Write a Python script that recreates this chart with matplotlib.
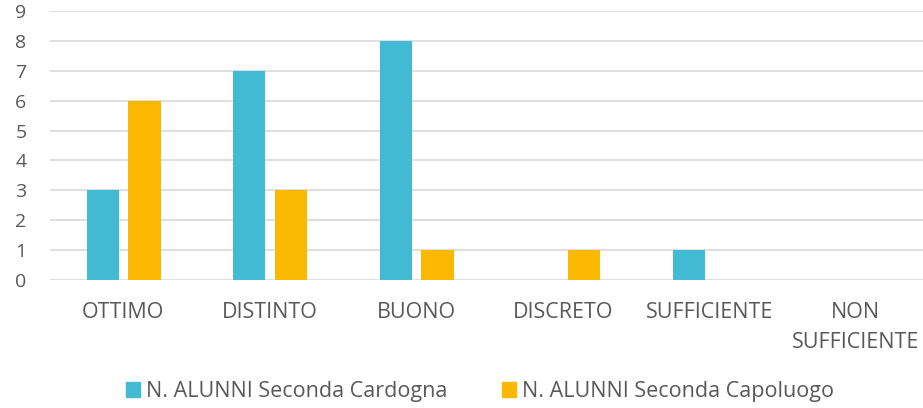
import numpy as np
import matplotlib.pyplot as plt
from matplotlib.patches import Patch

categories = ['OTTIMO', 'DISTINTO', 'BUONO', 'DISCRETO', 'SUFFICIENTE', 'NON\nSUFFICIENTE']
cardogna = [3, 7, 8, 0, 1, 0]
capoluogo = [6, 3, 1, 1, 0, 0]
series_names = ['N. ALUNNI Seconda Cardogna', 'N. ALUNNI Seconda Capoluogo']

teal = '#42BAD4'
orange = '#FAB800'
text_col = '#595959'

plt.rcParams['font.family'] = ['Open Sans', 'DejaVu Sans']

fig = plt.figure(figsize=(9.23, 4.08), dpi=100)
ax = fig.add_axes([50 / 923, 128 / 408, 879 / 923, 269 / 408])

x = np.arange(len(categories))
w = 0.22
ax.bar(x - 0.14, cardogna, w, color=teal, zorder=3)
ax.bar(x + 0.145, capoluogo, w, color=orange, zorder=3)

ax.set_xlim(-0.5, len(categories) - 0.5)
ax.set_ylim(0, 9)
ax.set_yticks(range(10))
ax.grid(axis='y', color='#d9d9d9', linewidth=1.2, zorder=0)
for s in ax.spines.values():
    s.set_visible(False)

ax.set_xticks(x)
ax.set_xticklabels(categories, fontsize=15.5, color=text_col, linespacing=1.55, va='top')
ax.tick_params(axis='x', length=0, pad=16)
ax.tick_params(axis='y', length=0, pad=17, labelsize=14, labelcolor=text_col)

handles = [Patch(color=teal), Patch(color=orange)]
fig.legend(handles, series_names, loc='center', bbox_to_anchor=(0.52, 0.04), ncol=2,
           frameon=False, fontsize=15.5, labelcolor=text_col,
           handlelength=0.65, handleheight=0.65, handletextpad=0.28, columnspacing=2.5)

fig.savefig('out.png', dpi=100)
